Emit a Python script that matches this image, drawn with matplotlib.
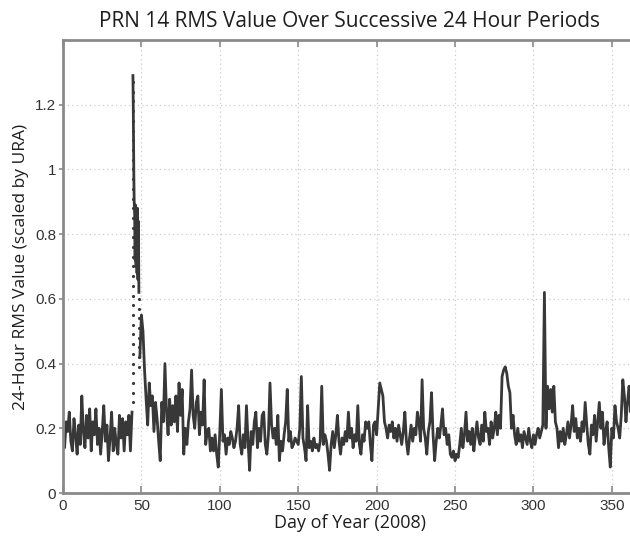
import numpy as np
import matplotlib
matplotlib.use("Agg")
import matplotlib.pyplot as plt

# Daily 24-hour RMS values (scaled by URA)
days_pre = list(range(0, 45))
rms_pre = [
    0.17, 0.14, 0.22, 0.19, 0.25, 0.16, 0.13, 0.23, 0.18, 0.12,
    0.21, 0.15, 0.30, 0.19, 0.14, 0.24, 0.17, 0.26, 0.13, 0.22,
    0.18, 0.26, 0.15, 0.20, 0.12, 0.19, 0.27, 0.16, 0.21, 0.10,
    0.17, 0.25, 0.13, 0.20, 0.15, 0.12, 0.24, 0.17, 0.23, 0.13,
    0.22, 0.18, 0.24, 0.13, 0.25,
]

# Fast rise on day 44 (plotted as separate dots, like the original)
rise_day = 44.5
rise_rms = [
    0.28, 0.31, 0.34, 0.37, 0.40, 0.43, 0.46, 0.49, 0.52, 0.55,
    0.58, 0.61, 0.64, 0.67, 0.70, 0.73, 0.76, 0.79, 0.82, 0.85,
    0.88, 0.91, 0.94, 0.97, 1.00, 1.03, 1.06, 1.09, 1.12, 1.15,
    1.18, 1.21, 1.24, 1.27,
]

# Peak of the anomaly
spike_days = [44.6, 44.8, 45.0, 45.2, 45.4, 45.7, 46.0, 46.3, 46.6, 46.9,
              47.2, 47.5, 47.8, 48.1, 48.4]
spike_rms = [1.29, 1.20, 1.08, 0.97, 0.90, 0.86, 0.72, 0.89, 0.70, 0.87,
             0.68, 0.88, 0.66, 0.84, 0.62]

# Decay dots between day 48 and 49
fall_day = 48.7
fall_rms = [0.60, 0.57, 0.54, 0.51, 0.48, 0.45, 0.42, 0.39]

days_post = list(range(49, 366))
rms_post = [
    0.42, 0.55, 0.50, 0.38, 0.29, 0.21, 0.34, 0.27, 0.30, 0.19, 0.28,
    0.23, 0.16, 0.10, 0.28, 0.22, 0.40, 0.25, 0.18, 0.29, 0.21,
    0.27, 0.22, 0.30, 0.19, 0.34, 0.24, 0.32, 0.12, 0.20, 0.15,
    0.22, 0.26, 0.38, 0.24, 0.20, 0.28, 0.30, 0.18, 0.25, 0.21,
    0.35, 0.15, 0.19, 0.20, 0.13, 0.17, 0.13, 0.18, 0.12, 0.08,
    0.19, 0.32, 0.16, 0.18, 0.12, 0.17, 0.15, 0.19, 0.17, 0.14,
    0.16, 0.20, 0.27, 0.15, 0.12, 0.18, 0.14, 0.27, 0.16, 0.07,
    0.19, 0.15, 0.22, 0.25, 0.14, 0.20, 0.16, 0.24, 0.25, 0.15,
    0.12, 0.18, 0.34, 0.21, 0.17, 0.20, 0.15, 0.24, 0.10, 0.16,
    0.13, 0.18, 0.22, 0.32, 0.16, 0.19, 0.14, 0.15, 0.17, 0.16,
    0.15, 0.20, 0.36, 0.17, 0.14, 0.10, 0.27, 0.14, 0.16, 0.13,
    0.17, 0.14, 0.15, 0.13, 0.16, 0.33, 0.15, 0.18, 0.16, 0.12,
    0.07, 0.15, 0.19, 0.14, 0.18, 0.24, 0.16, 0.12, 0.17, 0.15,
    0.19, 0.16, 0.25, 0.17, 0.20, 0.14, 0.18, 0.16, 0.27, 0.15,
    0.12, 0.18, 0.16, 0.22, 0.20, 0.22, 0.15, 0.10, 0.21, 0.22,
    0.18, 0.26, 0.34, 0.32, 0.30, 0.22, 0.20, 0.17, 0.21, 0.19,
    0.22, 0.17, 0.20, 0.16, 0.21, 0.18, 0.15, 0.19, 0.25, 0.16,
    0.12, 0.17, 0.21, 0.16, 0.20, 0.18, 0.25, 0.22, 0.16, 0.35,
    0.20, 0.17, 0.12, 0.19, 0.22, 0.31, 0.18, 0.10, 0.16, 0.20,
    0.17, 0.21, 0.26, 0.18, 0.20, 0.15, 0.18, 0.12, 0.11, 0.13,
    0.10, 0.12, 0.11, 0.15, 0.20, 0.14, 0.18, 0.25, 0.16, 0.19,
    0.15, 0.20, 0.13, 0.18, 0.22, 0.17, 0.15, 0.21, 0.16, 0.25,
    0.19, 0.20, 0.15, 0.22, 0.17, 0.20, 0.25, 0.18, 0.24, 0.20,
    0.36, 0.38, 0.39, 0.37, 0.33, 0.31, 0.20, 0.24, 0.18, 0.15,
    0.20, 0.16, 0.18, 0.14, 0.19, 0.17, 0.15, 0.20, 0.16, 0.14,
    0.18, 0.15, 0.18, 0.20, 0.17, 0.19, 0.21, 0.62, 0.20, 0.33,
    0.26, 0.32, 0.25, 0.33, 0.22, 0.20, 0.14, 0.19, 0.16, 0.20,
    0.15, 0.18, 0.22, 0.17, 0.21, 0.27, 0.19, 0.23, 0.17, 0.20,
    0.16, 0.22, 0.19, 0.28, 0.21, 0.15, 0.12, 0.21, 0.18, 0.24,
    0.16, 0.22, 0.28, 0.20, 0.25, 0.15, 0.19, 0.22, 0.14, 0.08,
    0.20, 0.17, 0.27, 0.22, 0.20, 0.17, 0.24, 0.35, 0.30, 0.22,
    0.28, 0.33, 0.25, 0.30, 0.22, 0.27,
]

x_ticks = [0, 50, 100, 150, 200, 250, 300, 350]
y_ticks = [0, 0.2, 0.4, 0.6, 0.8, 1.0, 1.2]
y_tick_labels = ["0", "0.2", "0.4", "0.6", "0.8", "1", "1.2"]

LINE_COLOR = "#383838"
SPINE_COLOR = "#8a8a8a"

fig = plt.figure(figsize=(6.3, 5.36), dpi=100)
ax = fig.add_axes([0.1, 0.0802, 0.911, 0.8452])

ax.plot(days_pre, rms_pre, color=LINE_COLOR, lw=2.0)
ax.plot([rise_day] * len(rise_rms), rise_rms, ".", color=LINE_COLOR, ms=2.5)
ax.plot(spike_days, spike_rms, color=LINE_COLOR, lw=2.0)
ax.plot([fall_day] * len(fall_rms), fall_rms, ".", color=LINE_COLOR, ms=2.5)
ax.plot(days_post, rms_post, color=LINE_COLOR, lw=2.0)

ax.set_xlim(0, 366)
ax.set_ylim(0, 1.4)
ax.set_xticks(x_ticks)
ax.set_yticks(y_ticks)
ax.set_yticklabels(y_tick_labels)

ax.grid(True, color="#cccccc", linestyle=(0, (1, 2.5)), lw=0.9)
ax.set_axisbelow(True)

for s in ax.spines.values():
    s.set_color(SPINE_COLOR)
    s.set_linewidth(2)

ax.tick_params(axis="x", direction="in", length=5, width=1.2, color=SPINE_COLOR,
               top=True, labelsize=11, pad=4)
ax.tick_params(axis="y", direction="out", length=3, width=1.2, color=SPINE_COLOR,
               labelsize=11, pad=2)
for lab in ax.get_xticklabels() + ax.get_yticklabels():
    lab.set_family("Liberation Sans")
    lab.set_color("#333333")

ax.set_title("PRN 14 RMS Value Over Successive 24 Hour Periods",
             fontsize=15, family="Open Sans", color="#1e1e1e", pad=9)
ax.set_xlabel("Day of Year (2008)", fontsize=13, family="Open Sans",
              color="#1e1e1e", labelpad=1)
ax.set_ylabel("24-Hour RMS Value (scaled by URA)", fontsize=12.5,
              family="Open Sans", color="#1e1e1e", labelpad=4)

fig.savefig("out.png", dpi=100, facecolor="white")
